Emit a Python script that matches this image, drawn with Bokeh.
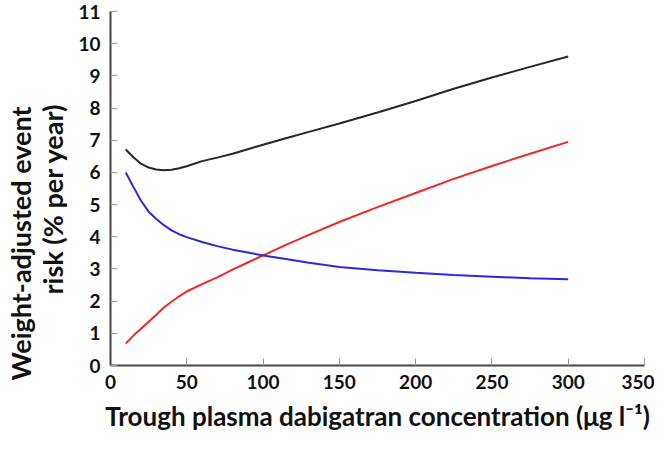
from bokeh.plotting import figure
from bokeh.models import Range1d, FixedTicker, Title
from bokeh.embed import file_html
from bokeh.resources import INLINE

# trough plasma dabigatran concentration (µg/l)
conc = [10, 15, 20, 25, 30, 35, 40, 45, 50, 60, 70, 80, 90, 100, 115, 130, 150, 175, 200, 225, 250, 275, 300]
# black curve
total_risk = [6.71, 6.47, 6.27, 6.15, 6.09, 6.07, 6.08, 6.13, 6.19, 6.35, 6.46, 6.58, 6.72, 6.86,
              7.06, 7.26, 7.52, 7.86, 8.22, 8.60, 8.95, 9.28, 9.60]
# red curve
red_risk = [0.68, 0.93, 1.14, 1.36, 1.58, 1.80, 1.98, 2.15, 2.30, 2.53, 2.74, 2.98, 3.20, 3.42,
            3.75, 4.06, 4.46, 4.92, 5.36, 5.80, 6.20, 6.58, 6.95]
# blue curve
blue_risk = [6.00, 5.55, 5.12, 4.78, 4.55, 4.36, 4.20, 4.08, 3.99, 3.84, 3.71, 3.60, 3.51, 3.42,
             3.31, 3.19, 3.06, 2.96, 2.88, 2.81, 2.76, 2.71, 2.68]

x_ticks = [0, 50, 100, 150, 200, 250, 300, 350]
y_ticks = list(range(0, 12))
x_title = "Trough plasma dabigatran concentration (\u03bcg l\u207b\u00b9)"
y_title_lines = ["Weight-adjusted event", "risk (% per year)"]

FONT = "Lato"

p = figure(width=654, height=436, output_backend="svg", toolbar_location=None,
           x_range=Range1d(0, 350), y_range=Range1d(0, 11),
           min_border_left=100, min_border_right=10, min_border_top=11, min_border_bottom=71)
p.outline_line_color = None
p.grid.grid_line_color = None

p.line(conc, total_risk, line_color="#262626", line_width=2)
p.line(conc, red_risk, line_color="#f52525", line_width=2)
p.line(conc, blue_risk, line_color="#2828e6", line_width=2)

for ax in (p.xaxis[0], p.yaxis[0]):
    ax.axis_line_color = "#444444"
    ax.axis_line_width = 2
    ax.major_tick_in = 7
    ax.major_tick_out = 0
    ax.major_tick_line_color = "#999999"
    ax.minor_tick_line_color = None
    ax.major_label_text_font = FONT
    ax.major_label_text_font_style = "bold"
    ax.major_label_text_font_size = "19px"
    ax.major_label_text_color = "#111111"

p.xaxis[0].ticker = FixedTicker(ticks=x_ticks)
p.yaxis[0].ticker = FixedTicker(ticks=y_ticks)
p.xaxis[0].major_label_standoff = 9
p.yaxis[0].major_label_standoff = 10

p.xaxis[0].axis_label = x_title
p.xaxis[0].axis_label_standoff = 8
p.xaxis[0].axis_label_text_font = FONT
p.xaxis[0].axis_label_text_font_style = "bold"
p.xaxis[0].axis_label_text_font_size = "26px"
p.xaxis[0].axis_label_text_color = "#111111"

# two-line y title (inner line first, outer line second), plus a thin spacer at the edge
t2 = Title(text=y_title_lines[1], align="left", offset=71, standoff=13,
           text_font=FONT, text_font_style="bold", text_font_size="27px", text_color="#111111")
t1 = Title(text=y_title_lines[0], align="left", offset=-15, standoff=-19,
           text_font=FONT, text_font_style="bold", text_font_size="27px", text_color="#111111")
spacer = Title(text=" ", standoff=0, text_font_size="8px")
p.add_layout(t2, "left")
p.add_layout(t1, "left")
p.add_layout(spacer, "left")

open("out.html", "w").write(file_html(p, INLINE))
